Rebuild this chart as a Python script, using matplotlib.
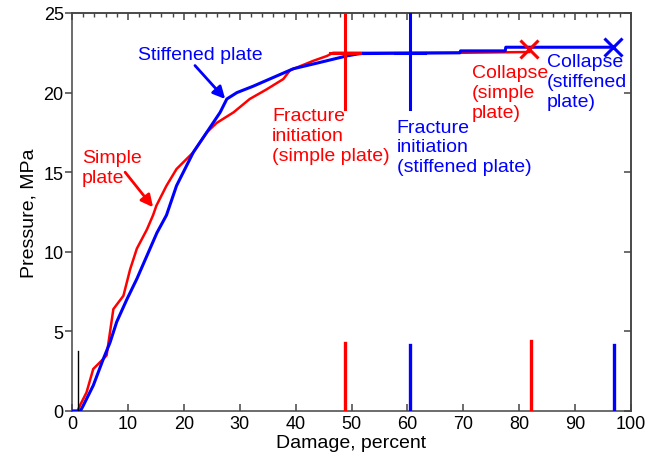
import matplotlib
matplotlib.use("Agg")
import matplotlib.pyplot as plt
from matplotlib.ticker import MultipleLocator

plt.rcParams['font.family'] = ['Liberation Sans', 'DejaVu Sans']

# Simple plate curve
simple_x = [0, 1, 1.4, 2.6, 3.8, 5.6, 6.2, 6.8, 7.4, 9.2, 10.4, 11.6, 13.4, 14.5, 15.1, 16.9,
            18.7, 21.7, 24.1, 25.9, 28.9, 31.8, 34.8, 37.8, 39, 43.2, 45.6, 46.7, 51.5, 69.4, 81.8]
simple_y = [0, 0, 0.33, 1.17, 2.64, 3.27, 3.5, 4.96, 6.4, 7.24, 8.9, 10.2, 11.4, 12.3, 12.9, 14.15,
            15.2, 16.25, 17.5, 18.1, 18.76, 19.6, 20.2, 20.85, 21.4, 22.0, 22.3, 22.5, 22.5, 22.5, 22.55]

# Stiffened plate curve
stiff_x = [0, 1.5, 2.0, 3.8, 5.6, 6.8, 8.0, 9.8, 11.6, 13.4, 15.2, 16.9, 18.7, 21.7, 24.1, 26.5,
           27.7, 29.5, 32.4, 36.0, 39.6, 44.4, 49.1, 51.5, 69.4, 69.5, 77.5, 77.6, 96.8]
stiff_y = [0, 0, 0.33, 1.6, 3.27, 4.3, 5.6, 7.0, 8.3, 9.75, 11.2, 12.3, 14.15, 16.25, 17.5, 18.76,
           19.6, 20.0, 20.4, 20.95, 21.5, 21.9, 22.3, 22.45, 22.5, 22.62, 22.62, 22.85, 22.85]

# Events
fracture_x = [48.8, 60.5]          # simple, stiffened
fracture_p = [22.5, 22.5]
collapse_x = [81.8, 96.8]
collapse_p = [22.72, 22.88]
event_colors = ['#ff0000', '#0000ff']
bar_x = [48.8, 60.5, 82.2, 96.9]
bar_h = [4.3, 4.15, 4.4, 4.15]
bar_colors = ['#ff0000', '#0000ff', '#ff0000', '#0000ff']
ref_x = 1.1
ref_h = 3.8

RED = '#ff0000'
BLUE = '#0000ff'

fig = plt.figure(figsize=(6.6, 4.6), dpi=100)
ax = fig.add_axes([72/660, 48/460, (631-72)/660, (412-14)/460])

ax.plot(simple_x, simple_y, color=RED, lw=1.8, zorder=3)
ax.plot(stiff_x, stiff_y, color=BLUE, lw=2.2, zorder=4)

# Fracture crosses
for fx, fp, c in zip(fracture_x, fracture_p, event_colors):
    ax.plot([fx, fx], [fp - 3.5, fp + 3.5], color=c, lw=2.2, zorder=5, clip_on=True)
    ax.plot([fx - 2.7, fx + 2.7], [fp, fp], color=c, lw=2.2, zorder=5)

# Collapse markers
for cx, cp, c in zip(collapse_x, collapse_p, event_colors):
    ax.plot([cx], [cp], marker='x', color=c, markersize=13, mew=2.2, zorder=6, clip_on=False)

# Bars at bottom
for bx, bh, c in zip(bar_x, bar_h, bar_colors):
    ax.plot([bx, bx], [0, bh], color=c, lw=2.4, zorder=5)
ax.plot([ref_x, ref_x], [0, ref_h], color='black', lw=1.0, zorder=5)

fs = 14
ax.text(22.9, 22.4, 'Stiffened plate', color=BLUE, fontsize=fs, ha='center', va='center')
ax.annotate('', xy=(27.4, 19.6), xytext=(22.0, 21.7),
            arrowprops=dict(arrowstyle='-|>', color=BLUE, lw=2, mutation_scale=18,
                            shrinkA=0, shrinkB=0))
ax.annotate('', xy=(14.5, 12.8), xytext=(9.5, 15.0),
            arrowprops=dict(arrowstyle='-|>', color=RED, lw=2, mutation_scale=18,
                            shrinkA=0, shrinkB=0))
ax.text(1.8, 15.3, 'Simple\nplate', color=RED, fontsize=fs, ha='left', va='center',
        linespacing=1.2)
ax.text(35.8, 17.3, 'Fracture\ninitiation\n(simple plate)', color=RED, fontsize=fs,
        ha='left', va='center', linespacing=1.2)
ax.text(58.1, 16.6, 'Fracture\ninitiation\n(stiffened plate)', color=BLUE, fontsize=fs,
        ha='left', va='center', linespacing=1.2)
ax.text(71.5, 20.0, 'Collapse\n(simple\nplate)', color=RED, fontsize=fs,
        ha='left', va='center', linespacing=1.2)
ax.text(84.9, 20.7, 'Collapse\n(stiffened\nplate)', color=BLUE, fontsize=fs,
        ha='left', va='center', linespacing=1.2)

ax.set_xlim(0, 100)
ax.set_ylim(0, 25)
ax.xaxis.set_major_locator(MultipleLocator(10))
ax.yaxis.set_major_locator(MultipleLocator(5))

spine_c = '#444444'
for s in ax.spines.values():
    s.set_color(spine_c)
    s.set_linewidth(1.1)

ax.tick_params(axis='x', which='major', direction='in', length=5, width=1.1, color=spine_c,
               labelsize=13, pad=3, top=False)
ax.tick_params(axis='y', which='major', direction='out', length=5, width=1.1, color=spine_c,
               labelsize=13, pad=1, right=False)

# Top axis ticks with minors
secx = ax.secondary_xaxis('top')
secx.xaxis.set_major_locator(MultipleLocator(10))
secx.xaxis.set_minor_locator(MultipleLocator(2))
secx.tick_params(which='major', direction='in', length=5, width=1.1, color=spine_c, labeltop=False)
secx.tick_params(which='minor', direction='in', length=3, width=1.0, color=spine_c)
secx.spines['top'].set_color(spine_c)
secx.spines['top'].set_linewidth(1.1)
secy = ax.secondary_yaxis('right')
secy.yaxis.set_major_locator(MultipleLocator(5))
secy.tick_params(which='major', direction='in', length=5, width=1.1, color=spine_c, labelright=False)
secy.spines['right'].set_color(spine_c)
secy.spines['right'].set_linewidth(1.1)

ax.set_xlabel('Damage, percent', fontsize=14, labelpad=1)
ax.set_ylabel('Pressure, MPa', fontsize=14, labelpad=4)

fig.savefig('out.png', dpi=100)
